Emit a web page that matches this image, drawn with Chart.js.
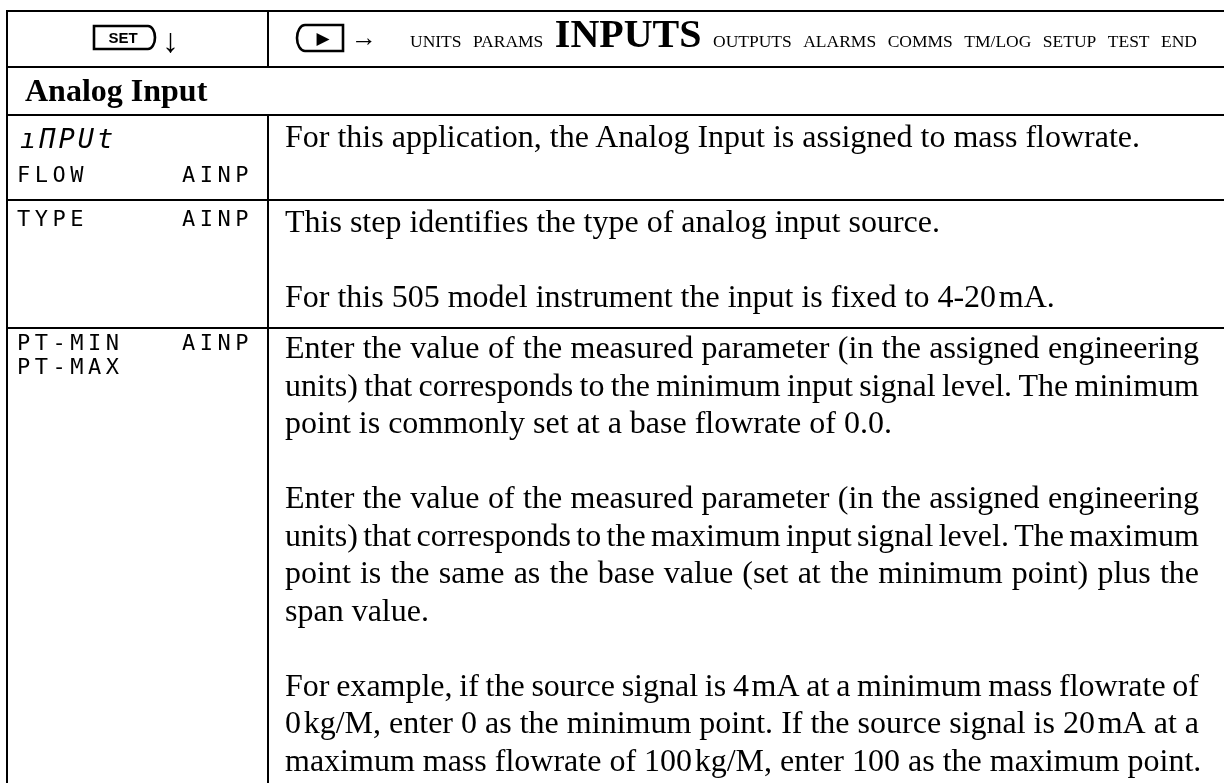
<!DOCTYPE html>
<html>
<head>
<meta charset="utf-8">
<script src="https://cdn.jsdelivr.net/npm/chart.js@4.4.0/dist/chart.umd.min.js"></script>
<style>
  html, body { margin: 0; padding: 0; background: #fff; width: 1224px; height: 783px; overflow: hidden; }
  #wrap { position: relative; width: 1224px; height: 783px; }
  #rules, #doc { position: absolute; left: 0; top: 0; }
  .serif { font-family: "Liberation Serif", "Times New Roman", serif; }
  .lcd { font-family: "DejaVu Sans Mono", monospace; }
</style>
</head>
<body>
<div id="wrap">
  <canvas id="rules" width="1224" height="783"></canvas>
  <svg id="doc" width="1224" height="783" xmlns="http://www.w3.org/2000/svg"></svg>
</div>
<script>
// ---------------- content ----------------
const setLabel = 'SET';
const downArrow = '\u2193';
const rightArrow = '\u2192';
const playGlyph = '\u25B6';
const menuItems = ['UNITS', 'PARAMS', 'INPUTS', 'OUTPUTS', 'ALARMS', 'COMMS', 'TM/LOG', 'SETUP', 'TEST', 'END'];
const activeMenu = 'INPUTS';
const sectionTitle = 'Analog Input';

const inputCodeBig = '\u0131\u03A0PUt';
const row1Codes = [['FLOW', 'AINP']];
const row1Paras = [['For this application, the Analog Input is assigned to mass flowrate.']];
const row2Codes = [['TYPE', 'AINP']];
const row2Paras = [
  ['This step identifies the type of analog input source.'],
  ['For this 505 model instrument the input is fixed to 4-20\u200AmA.']
];
const row3Codes = [['PT-MIN', 'AINP'], ['PT-MAX']];
const row3Paras = [
  ['Enter the value of the measured parameter (in the assigned engineering',
   'units) that corresponds to the minimum input signal level. The minimum',
   'point is commonly set at a base flowrate of 0.0.'],
  ['Enter the value of the measured parameter (in the assigned engineering',
   'units) that corresponds to the maximum input signal level. The maximum',
   'point is the same as the base value (set at the minimum point) plus the',
   'span value.'],
  ['For example, if the source signal is 4\u200AmA at a minimum mass flowrate of',
   '0\u200Akg/M, enter 0 as the minimum point. If the source signal is 20\u200AmA at a',
   'maximum mass flowrate of 100\u200Akg/M, enter 100 as the maximum point.']
];

// ---------------- layout ----------------
const L = {
  xLeft: 6, xCol: 267, xRight: 1226, rule: 2,
  yRules: [10, 66, 114, 199, 327],
  yBottom: 800,
  textX: 285, textRight: 1199, fs: 32, lead: 37.5,
  rowFirstBase: [147, 232, 358],
  codeX: 17, codeX2: 182, codeFs: 22, codeLead: 24,
  codeFirstBase: [182, 226, 350]
};

// ---------------- rules drawn by Chart.js ----------------
const rulesPlugin = {
  id: 'tableRules',
  afterDraw(chart) {
    const ctx = chart.ctx;
    ctx.save();
    ctx.fillStyle = '#000';
    const top = L.yRules[0];
    L.yRules.forEach(y => ctx.fillRect(L.xLeft, y, L.xRight - L.xLeft, L.rule));
    ctx.fillRect(L.xLeft, top, L.rule, L.yBottom - top);
    ctx.fillRect(L.xRight, top, L.rule, L.yBottom - top);
    ctx.fillRect(L.xCol, top, L.rule, L.yRules[1] - top);
    ctx.fillRect(L.xCol, L.yRules[2], L.rule, L.yBottom - L.yRules[2]);
    ctx.restore();
  }
};
new Chart(document.getElementById('rules'), {
  type: 'scatter',
  data: { datasets: [] },
  options: {
    responsive: false, animation: false, devicePixelRatio: 1,
    layout: { padding: 0 },
    plugins: { legend: { display: false }, tooltip: { enabled: false } },
    scales: { x: { display: false }, y: { display: false } }
  },
  plugins: [rulesPlugin]
});

// ---------------- text (SVG) ----------------
const NS = 'http://www.w3.org/2000/svg';
const svg = document.getElementById('doc');
function T(str, x, y, attrs) {
  const t = document.createElementNS(NS, 'text');
  t.setAttribute('x', x); t.setAttribute('y', y);
  for (const k in (attrs || {})) t.setAttribute(k, attrs[k]);
  t.textContent = str;
  svg.appendChild(t);
  return t;
}
function P(d, attrs) {
  const p = document.createElementNS(NS, 'path');
  p.setAttribute('d', d);
  for (const k in (attrs || {})) p.setAttribute(k, attrs[k]);
  svg.appendChild(p);
  return p;
}

// header left: SET key + down arrow
{
  const x0 = 94, x1 = 148, y0 = 26, y1 = 49;
  P(`M${x0} ${y0} H${x1} A7 11.5 0 0 1 ${x1} ${y1} H${x0} Z`, { fill: 'none', stroke: '#000', 'stroke-width': 2.6 });
  T(setLabel, (x0 + x1 + 4) / 2, 43, { 'font-family': 'Liberation Sans, Arial, sans-serif', 'font-weight': 'bold', 'font-size': 15, 'text-anchor': 'middle' });
  T(downArrow, 162, 52, { class: 'serif', 'font-size': 34 });
}
// header right: play key + arrow + menu
{
  const x0 = 305, x1 = 343, y0 = 25, y1 = 51;
  P(`M${x1} ${y0} H${x0} A8 13 0 0 0 ${x0} ${y1} H${x1} Z`, { fill: 'none', stroke: '#000', 'stroke-width': 2.6 });
  T(playGlyph, (x0 + x1) / 2 - 1, 44, { 'font-family': 'DejaVu Sans, sans-serif', 'font-size': 17, 'text-anchor': 'middle' });
  T(rightArrow, 351, 46, { class: 'serif', 'font-size': 26 });
  const startX = 410, endX = 1197, base = 47;
  const nodes = menuItems.map(m => T(m, 0, base, { class: 'serif', 'font-size': m === activeMenu ? 40 : 17.5, 'font-weight': m === activeMenu ? 'bold' : 'normal' }));
  const widths = nodes.map(n => n.getComputedTextLength());
  const gap = (endX - startX - widths.reduce((a, b) => a + b, 0)) / (nodes.length - 1);
  let x = startX;
  nodes.forEach((n, i) => { n.setAttribute('x', x); x += widths[i] + gap; });
}
// section title
T(sectionTitle, 25, 101, { class: 'serif', 'font-size': 32, 'font-weight': 'bold' });

// codes (left column)
T(inputCodeBig, 20, 148, { class: 'lcd', 'font-size': 27, 'font-style': 'italic', 'letter-spacing': 3 });
function codes(rows, firstBase) {
  rows.forEach((r, i) => {
    const y = firstBase + i * L.codeLead;
    T(r[0], L.codeX, y, { class: 'lcd', 'font-size': L.codeFs, 'letter-spacing': 4.5 });
    if (r[1]) T(r[1], L.codeX2, y, { class: 'lcd', 'font-size': L.codeFs, 'letter-spacing': 4.5 });
  });
}
codes(row1Codes, L.codeFirstBase[0]);
codes(row2Codes, L.codeFirstBase[1]);
codes(row3Codes, L.codeFirstBase[2]);

// body paragraphs (justified lines, last line of each paragraph left aligned)
function measure(str) {
  const tt = T(str, 0, -100, { class: 'serif', 'font-size': L.fs });
  const w = tt.getComputedTextLength();
  svg.removeChild(tt);
  return w;
}
function paras(ps, firstBase) {
  let y = firstBase;
  ps.forEach((p, pi) => {
    if (pi > 0) y += L.lead;
    p.forEach((line, li) => {
      const t = T('', L.textX, y, { class: 'serif', 'font-size': L.fs });
      const words = line.split(' ');
      if (li < p.length - 1 && words.length > 1) {
        const ws = words.map(measure);
        const total = ws.reduce((a, b) => a + b, 0);
        const g = (L.textRight - L.textX - total) / (words.length - 1);
        let x = L.textX;
        words.forEach((w, i) => {
          const s = document.createElementNS(NS, 'tspan');
          s.textContent = w + (i < words.length - 1 ? ' ' : '');
          s.setAttribute('x', x);
          t.appendChild(s);
          x += ws[i] + g;
        });
      } else {
        t.textContent = line;
      }
      y += L.lead;
    });
  });
}
paras(row1Paras, L.rowFirstBase[0]);
paras(row2Paras, L.rowFirstBase[1]);
paras(row3Paras, L.rowFirstBase[2]);
</script>
</body>
</html>
